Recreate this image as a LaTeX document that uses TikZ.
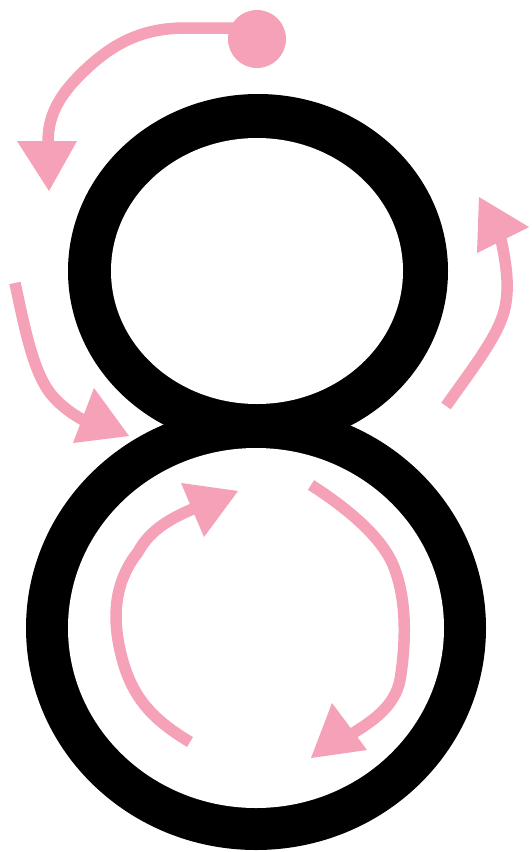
\documentclass[tikz,border=0pt]{standalone}
\begin{document}
\begin{tikzpicture}[x=1pt,y=-1pt,
  pinkline/.style={draw=pk,line width=11.5pt},
  pinkhead/.style={fill=pk}]
\definecolor{pk}{RGB}{245,161,184}
\useasboundingbox[fill=white] (0,0) rectangle (531,852);
% digit 8
\fill[black] (258,271) ellipse [x radius=190, y radius=177];
\fill[black] (256,628) ellipse [x radius=230, y radius=222];
\fill[white] (257,271) ellipse [x radius=146, y radius=133];
\fill[white] (256,628) ellipse [x radius=188, y radius=180];
% arrow 1 (start dot)
\coordinate (d) at (257,39);
\fill[pk] (d) circle [radius=29];
\coordinate (a1s) at (240,28);
\coordinate (a1e) at (48,143);
\draw[pinkline] (a1s) -- (185,28) .. controls (140,28) and (110,45) .. (80,75) .. controls (55,100) and (48,120) .. (a1e);
\fill[pinkhead] (17,141) -- (77,141) -- (49,191) -- cycle;
% arrow 2
\coordinate (a2s) at (15,283);
\coordinate (a2e) at (100,428);
\draw[pinkline] (a2s) .. controls (25,330) and (33,370) .. (50,393) .. controls (62,408) and (80,420) .. (a2e);
\fill[pinkhead] (94,388) -- (129,436) -- (73,443) -- cycle;
% arrow 3
\coordinate (a3s) at (446,406);
\coordinate (a3e) at (500,235);
\draw[pinkline] (a3s) .. controls (470,372) and (495,340) .. (503,315) .. controls (511,290) and (506,262) .. (a3e);
\fill[pinkhead] (477,253) -- (529,227) -- (479,197) -- cycle;
% arrow 4
\coordinate (a4s) at (190,742);
\coordinate (a4e) at (200,506);
\draw[pinkline] (a4s) .. controls (150,718) and (130,695) .. (120,650) .. controls (110,605) and (120,575) .. (138,552) .. controls (150,530) and (170,518) .. (a4e);
\fill[pinkhead] (181,483) -- (238,491) -- (204,537) -- cycle;
% arrow 5
\coordinate (a5s) at (311,485);
\coordinate (a5e) at (350,735);
\draw[pinkline] (a5s) .. controls (350,510) and (385,540) .. (395,570) .. controls (408,605) and (405,650) .. (400,680) .. controls (395,705) and (375,720) .. (a5e);
\fill[pinkhead] (332,703) -- (367,750) -- (311,758) -- cycle;
\end{tikzpicture}
\end{document}
